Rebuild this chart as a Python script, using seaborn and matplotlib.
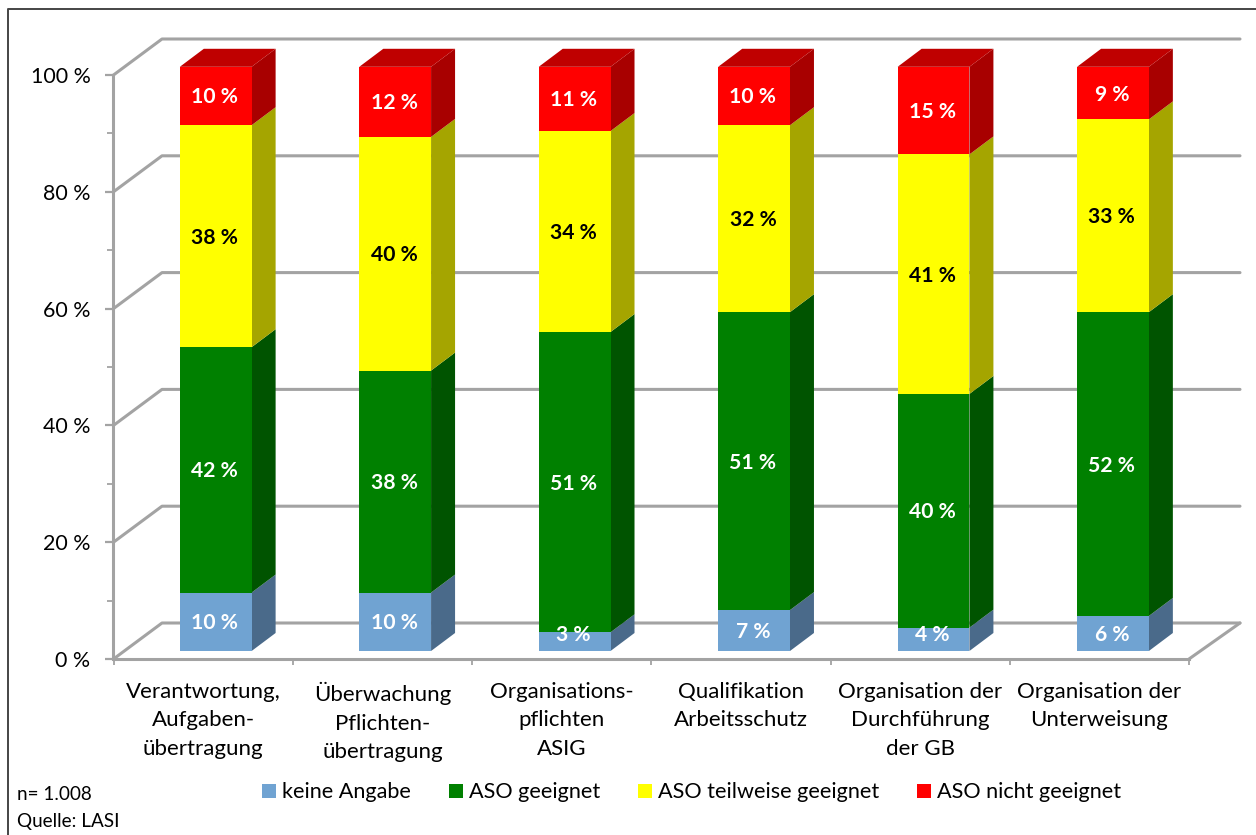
import matplotlib
matplotlib.use("Agg")
import numpy as np
import matplotlib.pyplot as plt
import seaborn as sns
from matplotlib.lines import Line2D
from matplotlib.patches import Patch, Polygon

categories = ["Verantwortung,\nAufgaben-\nübertragung", "Überwachung\nPflichten-\nübertragung",
              "Organisations-\npflichten\nASIG", "Qualifikation\nArbeitsschutz",
              "Organisation der\nDurchführung\nder GB", "Organisation der\nUnterweisung"]
series_names = ["keine Angabe", "ASO geeignet", "ASO teilweise geeignet", "ASO nicht geeignet"]
keine_angabe = [10, 10, 3.2, 7, 4, 6]
geeignet = [42, 38, 51.4, 51, 40, 52]
teilweise = [38, 40, 34.4, 32, 41, 33]
nicht_geeignet = [10, 12, 11, 10, 15, 9]
y_ticks = [0, 20, 40, 60, 80, 100]
series = [keine_angabe, geeignet, teilweise, nicht_geeignet]
front_colors = ["#70A3D2", "#008000", "#FFFF00", "#FF0000"]
side_colors = ["#4A6A8A", "#005400", "#A5A500", "#A80000"]
label_colors = ["white", "white", "black", "white"]
GRID = "#A3A3A3"
W, H = 1256, 835

sns.set_theme(style="white")
plt.rcParams["font.family"] = ["Lato", "DejaVu Sans"]
fig = plt.figure(figsize=(W / 100, H / 100), dpi=100, facecolor="white")


def px_axes(l, t, r, b):
    return fig.add_axes([l / W, 1 - b / H, (r - l) / W, (b - t) / H])


# figure frame (open on the cropped right and bottom sides)
fig.add_artist(Line2D([8 / W, 8 / W, 1], [0, 1 - 9 / H, 1 - 9 / H], color="#454545", lw=1.4,
                      transform=fig.transFigure))

# front wall axes with ticks
base = px_axes(113.5, 75, 1189, 659)
base.set_xlim(-0.5, 5.5)
base.set_ylim(0, 100)
base.patch.set_visible(False)
for s in ["top", "right"]:
    base.spines[s].set_visible(False)
for s in ["left", "bottom"]:
    base.spines[s].set_color(GRID)
    base.spines[s].set_linewidth(2.2)
base.set_yticks(y_ticks)
base.set_yticklabels([f"{v} %" for v in y_ticks], fontsize=15.4, color="black", va="center_baseline")
base.set_yticks(np.arange(10, 100, 20), minor=True)
base.set_xticks(np.arange(-0.5, 6, 1))
base.set_xticklabels([])
base.set_xticks(np.arange(6), minor=True)
base.set_xticklabels(categories, minor=True, fontsize=16, color="black", linespacing=1.53, ha="center")
base.tick_params(axis="y", which="major", length=5.5, width=1.6, color=GRID, pad=11, left=True)
base.tick_params(axis="y", which="minor", length=4.5, width=1.3, color=GRID, left=True)
base.tick_params(axis="x", which="major", length=4.5, width=1.3, color=GRID, bottom=True)
base.tick_params(axis="x", which="minor", length=0, pad=16.5)

# back wall and floor
wall_dx_l, wall_dx_r, wall_dy = 48.5 / 179.25, 51 / 179.25, 36 / 5.84
for v in y_ticks:
    base.plot([-0.5, -0.5 + wall_dx_l, 5.5 + wall_dx_r], [v, v + wall_dy, v + wall_dy], color=GRID, lw=2.2,
              clip_on=False, solid_capstyle="round", solid_joinstyle="round", zorder=1)
base.plot([5.5, 5.5 + wall_dx_r], [0, wall_dy], color=GRID, lw=2.2, clip_on=False,
          solid_capstyle="round", zorder=1)

# bar plane axes
ax = px_axes(126, 66.8, 1202.7, 651)
ax.patch.set_visible(False)
labels_x = list(range(len(categories)))
bottom = np.zeros(len(categories))
depth_x, depth_y = 24 / 179.46, 18 / 5.84
bar_tops = None
for vals, name, fc, sc, lc in zip(series, series_names, front_colors, side_colors, label_colors):
    vals = np.array(vals, dtype=float)
    before = len(ax.patches)
    sns.barplot(x=labels_x, y=vals, bottom=bottom, color=fc, saturation=1, width=0.4, ax=ax, linewidth=0,
                order=labels_x, zorder=3, errorbar=None)
    new = ax.patches[before:]
    for p, v, b in zip(new, vals, bottom):
        x1 = p.get_x() + p.get_width()
        ax.add_patch(Polygon([(x1, b), (x1 + depth_x, b + depth_y), (x1 + depth_x, b + v + depth_y), (x1, b + v)],
                             closed=True, facecolor=sc, edgecolor="none", clip_on=False, zorder=2))
        ax.text(x1 - p.get_width() / 2 - 0.006, max(b + v / 2, 3.0) - 0.25, f"{v:.0f} %", ha="center", va="center",
                fontsize=15.2, fontweight="bold", color=lc, zorder=5, clip_on=True)
    bottom = bottom + vals
    bar_tops = new
for p, top in zip(bar_tops, bottom):
    x0, x1 = p.get_x(), p.get_x() + p.get_width()
    ax.add_patch(Polygon([(x0, top), (x1, top), (x1 + depth_x, top + depth_y), (x0 + depth_x, top + depth_y)],
                         closed=True, facecolor="#BF0000", edgecolor="none", clip_on=False, zorder=2))
ax.set_xlim(-0.5, 5.5)
ax.set_ylim(0, 100)
ax.axis("off")

# legend
handles = [Patch(facecolor=c, edgecolor="none") for c in front_colors]
leg = fig.legend(handles, series_names, loc="center left", bbox_to_anchor=(262 / W, 1 - 792.5 / H), ncol=4,
                 frameon=False, fontsize=15.6, handlelength=0.65, handleheight=0.65, handletextpad=0.27,
                 columnspacing=1.75, borderpad=0, borderaxespad=0)
for t in leg.get_texts():
    t.set_color("black")

fig.text(17 / W, 1 - 794.5 / H, "n= 1.008", fontsize=13.6, color="black", va="center")
fig.text(17 / W, 1 - 821 / H, "Quelle: LASI", fontsize=13.6, color="black", va="center")

fig.savefig("out.png", dpi=100)
